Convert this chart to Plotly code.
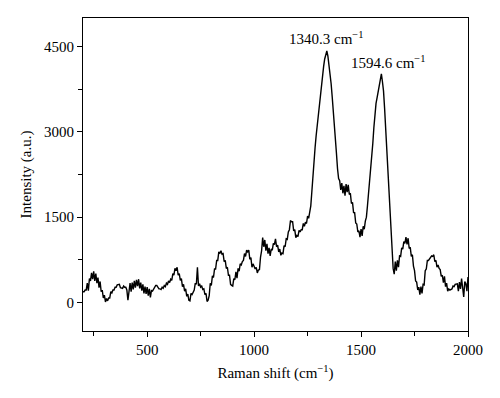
import plotly.graph_objects as go

raman_shift = list(range(200, 2001, 5))

intensity = [
    190, 190, 220, 220, 340, 210, 420, 380, 520, 410, 550, 380, 510, 340, 440, 260, 370, 190, 220, 80,
    130, 10, 70, 30, 80, 80, 190, 170, 220, 220, 270, 270, 310, 310, 320, 260, 260, 250, 290, 270,
    270, 220, 40, 210, 340, 190, 350, 230, 380, 260, 400, 290, 410, 250, 350, 210, 320, 160, 280, 150,
    270, 120, 240, 90, 210, 200, 230, 280, 300, 300, 270, 240, 240, 230, 270, 250, 300, 280, 340, 320,
    380, 350, 410, 390, 510, 480, 600, 560, 620, 480, 510, 390, 420, 280, 320, 200, 240, 110, 150, 40,
    30, 160, 140, 200, 220, 340, 320, 620, 290, 330, 270, 290, 230, 240, 140, 160, 20, 40, 120, 340,
    300, 470, 440, 590, 590, 740, 740, 890, 860, 910, 850, 860, 720, 740, 600, 620, 480, 480, 320, 300,
    290, 420, 400, 540, 430, 600, 550, 680, 660, 720, 740, 860, 810, 920, 890, 920, 760, 790, 620, 680,
    640, 590, 620, 520, 570, 580, 800, 910, 1140, 980, 1100, 910, 1030, 860, 960, 820, 940, 920, 1040, 1020,
    1120, 980, 1010, 890, 940, 830, 870, 860, 1000, 980, 1120, 1110, 1240, 1280, 1440, 1420, 1420, 1260, 1280, 1140,
    1180, 1160, 1270, 1240, 1280, 1280, 1390, 1340, 1410, 1390, 1520, 1480, 1590, 1700, 1950, 2250, 2500, 2720, 2930, 3120,
    3300, 3500, 3680, 3860, 3980, 4150, 4280, 4380, 4420, 4330, 4200, 4030, 3850, 3620, 3400, 3150, 2900, 2620, 2350, 2180,
    2140, 1980, 2100, 1920, 2050, 1880, 2080, 1940, 2070, 1900, 1920, 1740, 1760, 1580, 1580, 1400, 1380, 1240, 1260, 1150,
    1290, 1170, 1340, 1290, 1430, 1500, 1700, 1900, 2100, 2300, 2520, 2800, 3080, 3320, 3500, 3600, 3700, 3800, 3900, 4020,
    3880, 3720, 3420, 3050, 2750, 2400, 2050, 1650, 1250, 880, 600, 500, 720, 560, 740, 620, 820, 810, 960, 940,
    1070, 1040, 1150, 1020, 1130, 950, 970, 810, 840, 640, 560, 380, 360, 220, 270, 140, 280, 160, 320, 310,
    560, 590, 740, 740, 770, 780, 820, 810, 840, 720, 740, 620, 660, 600, 580, 460, 480, 350, 460, 280,
    340, 200, 240, 220, 230, 240, 290, 280, 320, 320, 330, 200, 360, 240, 420, 260, 100, 370, 330, 200,
    450,
]

peak_labels = ["1340.3 cm<sup>\u22121</sup>", "1594.6 cm<sup>\u22121</sup>"]
label_x = [1340, 1626]
label_y = [4650, 4230]

x_ticks = [500, 1000, 1500, 2000]
y_ticks = [0, 1500, 3000, 4500]

FONT = "Liberation Serif"
FS = 15

fig = go.Figure()
fig.add_trace(go.Scatter(
    x=raman_shift, y=intensity, mode="lines",
    line=dict(color="black", width=1.4),
    showlegend=False, hoverinfo="skip",
))

for lx, ly, txt in zip(label_x, label_y, peak_labels):
    fig.add_annotation(x=lx, y=ly, text=txt, showarrow=False,
                       xanchor="center", yanchor="middle",
                       font=dict(family=FONT, size=FS, color="black"))

axis_common = dict(
    showline=True, linecolor="black", linewidth=1, mirror=True,
    ticks="outside", ticklen=5, tickwidth=1, tickcolor="black",
    showgrid=False, zeroline=False, automargin=False,
    tickfont=dict(family=FONT, size=FS, color="black"),
)

fig.update_xaxes(
    range=[200, 2000], tickvals=x_ticks,
    minor=dict(ticks="outside", ticklen=4, tickwidth=1, tickcolor="black", dtick=250, tick0=0),
    title=dict(text="Raman shift (cm<sup>\u22121</sup>)", font=dict(family=FONT, size=FS, color="black"), standoff=10),
    **axis_common,
)
fig.update_yaxes(
    range=[-500, 5000], tickvals=y_ticks,
    minor=dict(ticks="outside", ticklen=4, tickwidth=1, tickcolor="black", dtick=750, tick0=0),
    title=dict(text="Intensity (a.u.)", font=dict(family=FONT, size=FS, color="black"), standoff=8),
    **axis_common,
)

# The page body adds an 8 px offset, so the figure is sized to fit the 500x398 window.
fig.update_layout(
    width=492, height=390,
    margin=dict(l=75, r=32, t=10, b=67),
    paper_bgcolor="white", plot_bgcolor="white",
    font=dict(family=FONT, size=FS, color="black"),
)

fig.write_html("out.html")
